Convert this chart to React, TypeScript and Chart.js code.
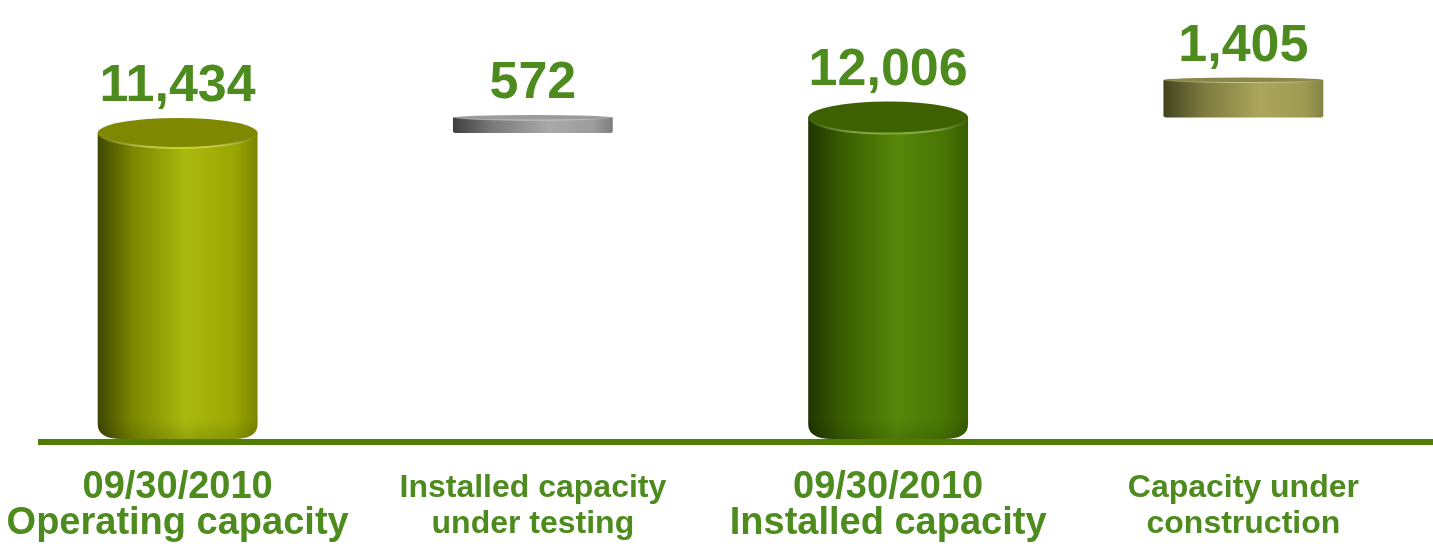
import React, { useEffect, useRef } from "react";
import { Chart, registerables } from "chart.js";

Chart.register(...registerables);

// ---- data ----
const categories: string[][] = [
  ["09/30/2010", "Operating capacity"],
  ["Installed capacity", "under testing"],
  ["09/30/2010", "Installed capacity"],
  ["Capacity under", "construction"],
];
const barStarts = [0, 11434, 0, 12006];
const barValues = [11434, 572, 12006, 1405];
const yMax = 16400;

// ---- styles ----
const FONT = "'Liberation Sans', Arial, Helvetica, sans-serif";
const TEXT_GREEN = "#4e8b1f";
const LINE_GREEN = "#527d05";

type CylStyle = {
  body: [number, string][];
  top: string;
  rim: string;
  ry: number;
  rh: number;
  rv: number;
};

const cylStyles: CylStyle[] = [
  {
    body: [
      [0, "#3f4800"],
      [0.22, "#7a8700"],
      [0.55, "#aab90e"],
      [0.85, "#9aa703"],
      [1, "#7d8600"],
    ],
    top: "#7e8800",
    rim: "#c8d41e",
    ry: 15,
    rh: 24,
    rv: 15,
  },
  {
    body: [
      [0, "#3e3e3e"],
      [0.25, "#7a7a7a"],
      [0.6, "#a9a9a9"],
      [0.88, "#9c9c9c"],
      [1, "#7e7e7e"],
    ],
    top: "#9b9b9b",
    rim: "#c8c8c8",
    ry: 2.5,
    rh: 4,
    rv: 2,
  },
  {
    body: [
      [0, "#1f3500"],
      [0.22, "#3b5e00"],
      [0.55, "#56870a"],
      [0.85, "#497604"],
      [1, "#385c00"],
    ],
    top: "#3d6100",
    rim: "#78a826",
    ry: 16,
    rh: 24,
    rv: 15,
  },
  {
    body: [
      [0, "#434320"],
      [0.25, "#7c7a3e"],
      [0.6, "#aba65b"],
      [0.88, "#9f9a52"],
      [1, "#868244"],
    ],
    top: "#8b8749",
    rim: "#c9c48a",
    ry: 2.5,
    rh: 4,
    rv: 2,
  },
];

function fmt(v: number): string {
  return v.toLocaleString("en-US");
}

function drawCylinder(
  ctx: CanvasRenderingContext2D,
  cx: number,
  w: number,
  top: number,
  bottom: number,
  s: CylStyle
) {
  const left = cx - w / 2;
  const right = cx + w / 2;
  ctx.save();
  const g = ctx.createLinearGradient(left, 0, right, 0);
  s.body.forEach(([p, c]) => g.addColorStop(p, c));
  ctx.beginPath();
  ctx.moveTo(left, top);
  ctx.lineTo(right, top);
  ctx.lineTo(right, bottom - s.rv);
  ctx.quadraticCurveTo(right, bottom, right - s.rh, bottom);
  ctx.lineTo(left + s.rh, bottom);
  ctx.quadraticCurveTo(left, bottom, left, bottom - s.rv);
  ctx.closePath();
  ctx.fillStyle = g;
  ctx.fill();
  const h = bottom - top;
  if (h > 40) {
    const vg = ctx.createLinearGradient(0, bottom - 20, 0, bottom);
    vg.addColorStop(0, "rgba(0,0,0,0)");
    vg.addColorStop(1, "rgba(0,0,0,0.12)");
    ctx.fillStyle = vg;
    ctx.fill();
  }
  ctx.beginPath();
  ctx.ellipse(cx, top, w / 2, s.ry, 0, 0, Math.PI * 2);
  ctx.fillStyle = s.top;
  ctx.fill();
  const rg = ctx.createLinearGradient(left, 0, right, 0);
  rg.addColorStop(0, "rgba(255,255,255,0)");
  rg.addColorStop(0.55, s.rim);
  rg.addColorStop(1, "rgba(255,255,255,0)");
  ctx.beginPath();
  ctx.ellipse(cx, top, w / 2 - 1, s.ry, 0, 0.05, Math.PI - 0.05);
  ctx.strokeStyle = rg;
  ctx.lineWidth = s.ry > 5 ? 2 : 1;
  ctx.stroke();
  ctx.restore();
}

const cylinderPlugin = {
  id: "cylinders",
  afterDatasetsDraw(chart: any) {
    const ctx: CanvasRenderingContext2D = chart.ctx;
    const meta = chart.getDatasetMeta(0);
    meta.data.forEach((bar: any, i: number) => {
      const { x, y, base, width } = bar.getProps(["x", "y", "base", "width"], true);
      const top = Math.min(y, base);
      const bottom = Math.max(y, base);
      const s = cylStyles[i];
      drawCylinder(ctx, x, width, top, bottom, s);
      ctx.save();
      ctx.font = `bold 52px ${FONT}`;
      ctx.fillStyle = TEXT_GREEN;
      ctx.textAlign = "center";
      ctx.textBaseline = "alphabetic";
      ctx.fillText(fmt(barValues[i]), x, top - s.ry - 17);
      ctx.restore();
    });
    const y0 = chart.scales.y.getPixelForValue(0);
    ctx.save();
    ctx.fillStyle = LINE_GREEN;
    ctx.fillRect(38, Math.round(y0), chart.width - 38, 6);
    ctx.restore();
  },
};

export default function App() {
  const ref = useRef<HTMLCanvasElement | null>(null);
  useEffect(() => {
    if (!ref.current) return;
    const data = barStarts.map((s, i) => [s, s + barValues[i]]);
    const chart = new Chart(ref.current, {
      type: "bar",
      data: {
        labels: categories,
        datasets: [
          {
            data: data as any,
            backgroundColor: "rgba(0,0,0,0)",
            borderWidth: 0,
            barPercentage: 0.45,
            categoryPercentage: 1,
          },
        ],
      },
      options: {
        responsive: false,
        animation: false,
        devicePixelRatio: 1,
        layout: { padding: { left: 0, right: 12, top: 0, bottom: 0 } },
        plugins: {
          legend: { display: false },
          tooltip: { enabled: false },
        },
        scales: {
          x: {
            grid: { display: false },
            border: { display: false },
            afterFit: (scale: any) => {
              scale.height = 105;
              scale.paddingLeft = 0;
              scale.paddingRight = 0;
            },
            ticks: {
              autoSkip: false,
              maxRotation: 0,
              minRotation: 0,
              padding: 23,
              color: TEXT_GREEN,
              font: (c: any) =>
                c.index % 2 === 0
                  ? { family: FONT, size: 38, weight: "bold", lineHeight: 36 / 38 }
                  : { family: FONT, size: 32, weight: "bold", lineHeight: 36 / 32 },
            },
          },
          y: {
            display: false,
            min: 0,
            max: yMax,
          },
        },
      },
      plugins: [cylinderPlugin],
    });
    return () => chart.destroy();
  }, []);
  return (
    <div style={{ position: "absolute", left: 0, top: 0, width: 1433, height: 544, background: "#fff" }}>
      <canvas ref={ref} width={1433} height={544} />
    </div>
  );
}
